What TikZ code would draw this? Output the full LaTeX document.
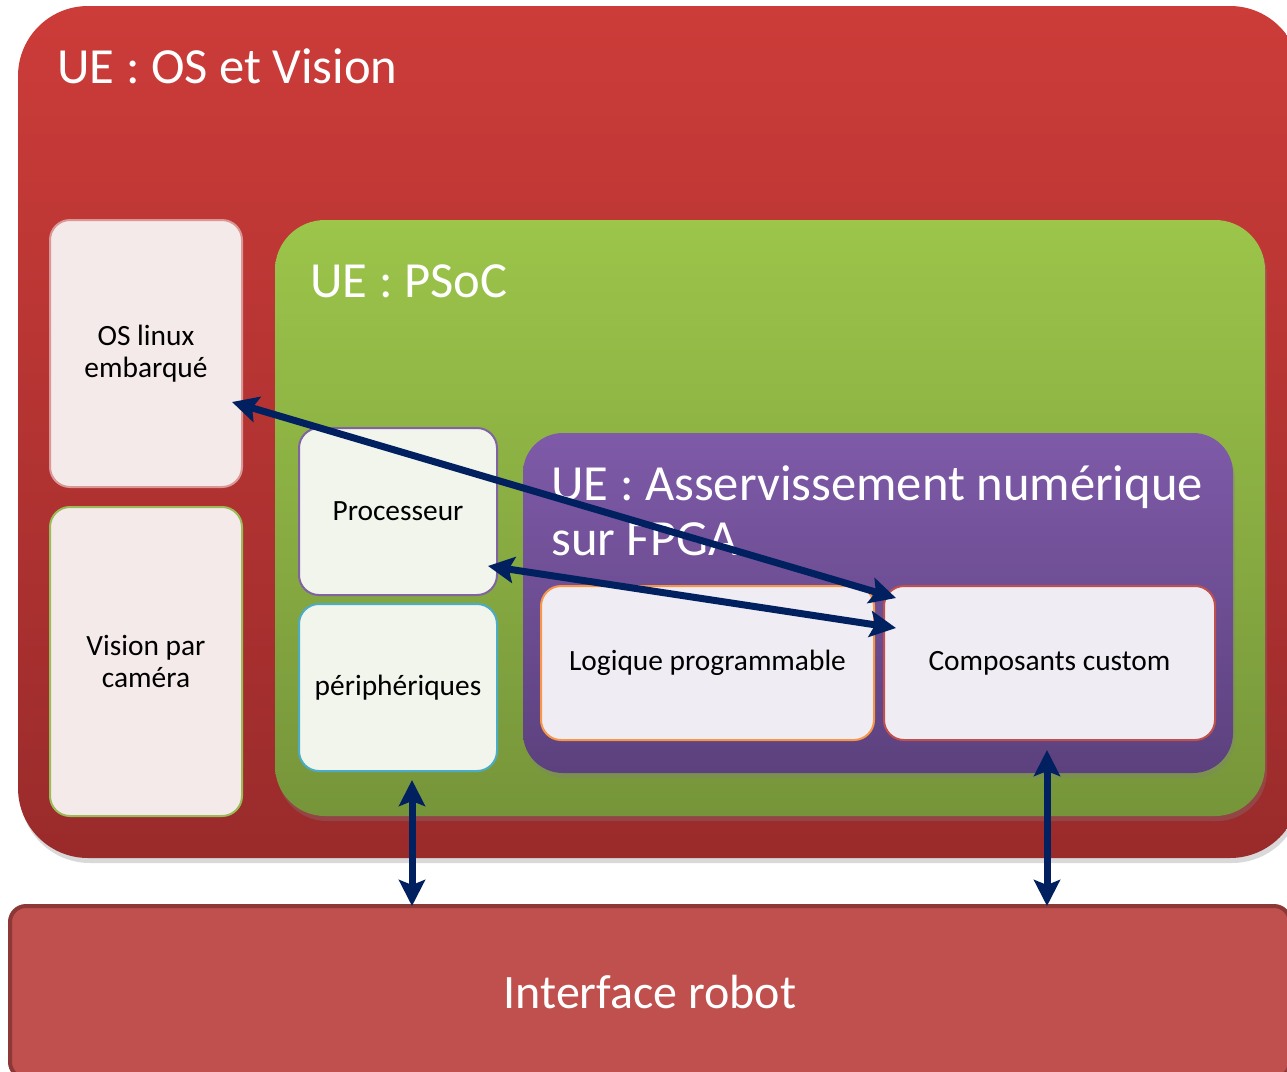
\documentclass[tikz,border=0pt]{standalone}
\usepackage{fontspec}
\setmainfont{Carlito}
\usetikzlibrary{positioning,calc,arrows.meta,shadows}

\definecolor{redtop}{HTML}{CC3C39}
\definecolor{redbot}{HTML}{9A2B2B}
\definecolor{greentop}{HTML}{9CC54A}
\definecolor{greenbot}{HTML}{76953A}
\definecolor{purpletop}{HTML}{7E5AA8}
\definecolor{purplebot}{HTML}{5C417E}
\definecolor{robotfill}{HTML}{C0504D}
\definecolor{robotline}{HTML}{8C3836}
\definecolor{osfill}{HTML}{F5EAEA}
\definecolor{osline}{HTML}{D99795}
\definecolor{visline}{HTML}{9BBB59}
\definecolor{socfill}{HTML}{F2F5EC}
\definecolor{procline}{HTML}{8064A2}
\definecolor{periline}{HTML}{4BACC6}
\definecolor{fpgafill}{HTML}{EFECF3}
\definecolor{logicline}{HTML}{F79646}
\definecolor{ccline}{HTML}{C0504D}
\definecolor{linkblue}{HTML}{002060}

\begin{document}
\begin{tikzpicture}[x=1pt,y=-1pt,>={Stealth[length=13pt,width=13pt,inset=2.5pt]},
        ue node/.style={rounded corners=#1, inner sep=0pt, outer sep=0pt,
            drop shadow={opacity=0.3, shadow xshift=1pt, shadow yshift=-2.5pt}},
        part node/.style={draw, line width=1pt, rounded corners=10pt, inner sep=0pt,
            outer sep=0pt, align=center, font=\fontsize{14.7}{16}\selectfont},
        title/.style={anchor=base west, inner sep=0pt, text=white, align=left,
            font=\fontsize{25.3}{27.5}\selectfont},
        link/.style={<->, line width=3.5pt, draw=linkblue}]

\path[use as bounding box] (0,0) rectangle (643.5,536);
\clip (0,0) rectangle (643.5,536);

% UE boxes
\node[ue node=35pt, top color=redtop, bottom color=redbot, anchor=north west,
    minimum width=641pt, minimum height=426pt] (osvision) at (9,3) {};
\node[title] (osvisiontitle) at (28.5,41.5) {UE : OS et Vision};

\node[ue node=8pt, draw=robotline, line width=2pt, fill=robotfill, anchor=north west,
    minimum width=640pt, minimum height=86pt, text=white,
    font=\fontsize{24}{28}\selectfont] (robot) at (5,453) {Interface robot};

\node[ue node=25pt, top color=greentop, bottom color=greenbot, anchor=north west,
    minimum width=495pt, minimum height=298pt] (psoc) at (137.5,110) {};
\node[title] (psoctitle) at (155,148.5) {UE : PSoC};

\node[ue node=20pt, top color=purpletop, bottom color=purplebot, anchor=north west,
    minimum width=355pt, minimum height=170pt] (fpga) at (261.5,216.5) {};
\node[title] (fpgatitle) at (275.5,277.5) {UE : Asservissement numérique\\sur FPGA};

% blocs
\node[part node, fill=osfill, draw=osline, anchor=north west,
    minimum width=96pt, minimum height=133.5pt] (osl) at (25,110) {OS linux\\embarqué};
\node[part node, fill=osfill, draw=visline, anchor=north west,
    minimum width=96pt, minimum height=154.5pt] (vis) at ([yshift=-10pt]osl.south west) {Vision par\\caméra};

\node[part node, fill=socfill, draw=procline, anchor=north west,
    minimum width=99pt, minimum height=83.5pt] (proc) at (149.5,214) {Processeur};
\node[part node, fill=socfill, draw=periline, anchor=north west,
    minimum width=99pt, minimum height=83.5pt] (peri) at ([yshift=-4.5pt]proc.south west) {périphériques};

\node[part node, fill=fpgafill, draw=logicline, anchor=north west,
    minimum width=166.5pt, minimum height=77pt] (logic) at (270.5,293) {Logique programmable};
\node[part node, fill=fpgafill, draw=ccline, anchor=north west,
    minimum width=165.5pt, minimum height=77pt] (cc) at ([xshift=5pt]logic.north east) {Composants custom};

% liens
\coordinate (periport) at ($(peri.south)+(7,4.5)$);
\coordinate (ccport) at ($(cc.south)+(-1.25,5)$);

\draw[link] ($(osl.south east)+(-5,-42.5)$) -- ($(cc.north west)+(6,6)$);
\draw[link] ($(proc.south east)+(-4.5,-14.5)$) -- ($(cc.north west)+(6,21)$);
\draw[link] (periport) -- (periport |- robot.north);
\draw[link] (ccport) -- (ccport |- robot.north);

\end{tikzpicture}
\end{document}
